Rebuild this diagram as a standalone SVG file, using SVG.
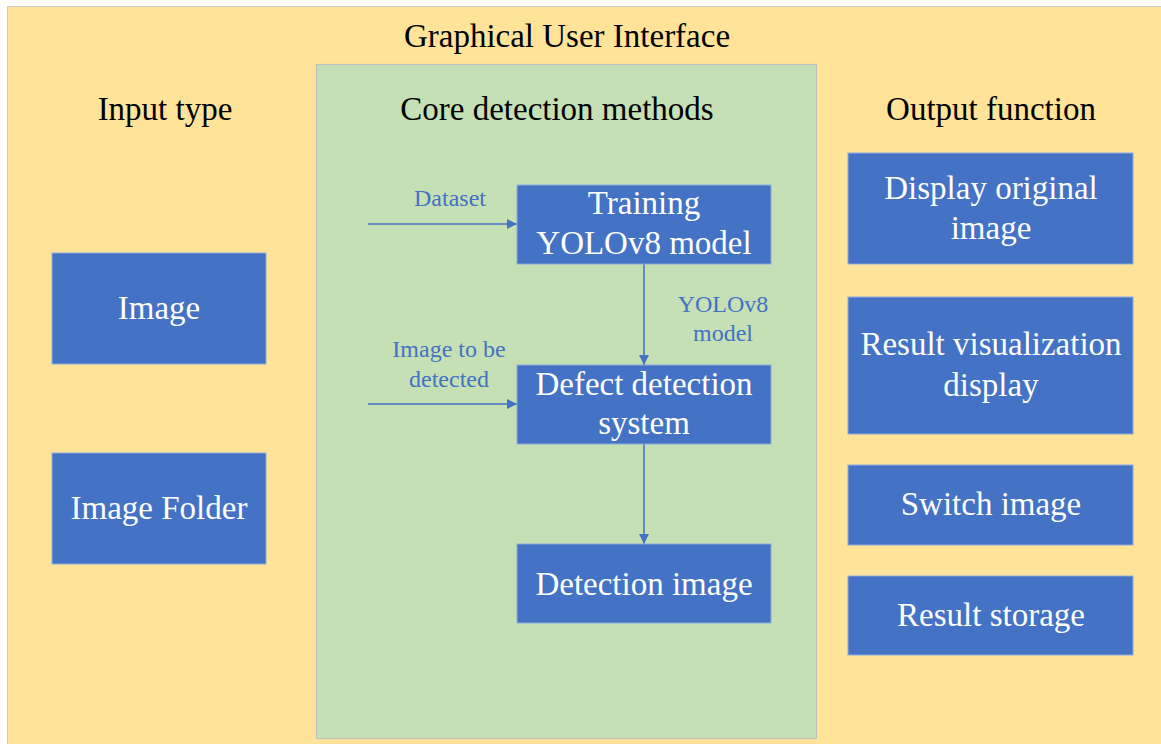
<svg xmlns="http://www.w3.org/2000/svg" width="1161" height="744" viewBox="0 0 1161 744">
<defs>
<style>
text{font-family:"Liberation Serif","Times New Roman",serif;text-anchor:middle}
.hdr{font-size:33px;fill:#000}
.box{fill:#4472C4;stroke:#8FAADC;stroke-width:1}
.bt{font-size:33px;fill:#fff}
.lbl{font-size:24px;fill:#4472C4}
.conn{stroke:#4472C4;stroke-width:1.5;fill:none;marker-end:url(#ah)}
</style>
<marker id="ah" viewBox="0 0 10 10" refX="10" refY="5" markerWidth="10" markerHeight="10" markerUnits="userSpaceOnUse" orient="auto">
<path d="M0,0 L10,5 L0,10 z" fill="#4472C4"/>
</marker>
</defs>
<rect x="0" y="0" width="1161" height="744" fill="#fff"/>
<rect id="gui" x="7.5" y="6.5" width="1160" height="745" fill="#FFE399" stroke="#C8C8C8" stroke-width="1"/>
<rect id="core" x="316.5" y="64.5" width="500" height="674" fill="#C5E0B4" stroke="#BFBFBF" stroke-width="1.2"/>
<text class="hdr" x="567" y="47">Graphical User Interface</text>
<text class="hdr" x="165" y="120">Input type</text>
<text class="hdr" x="557" y="120">Core detection methods</text>
<text class="hdr" x="991" y="120">Output function</text>
<g id="connectors">
<line class="conn" x1="368" y1="224" x2="517" y2="224"/>
<line class="conn" x1="368" y1="404" x2="517" y2="404"/>
<line class="conn" x1="644" y1="264" x2="644" y2="365"/>
<line class="conn" x1="644" y1="444" x2="644" y2="544"/>
<text class="lbl" x="450" y="206">Dataset</text>
<text class="lbl" x="723" y="312">YOLOv8</text>
<text class="lbl" x="723" y="341">model</text>
<text class="lbl" x="449" y="357">Image to be</text>
<text class="lbl" x="449" y="387">detected</text>
</g>
<g id="n-image"><rect class="box" x="52" y="253" width="214" height="111"/><text class="bt" x="159" y="319">Image</text></g>
<g id="n-folder"><rect class="box" x="52" y="453" width="214" height="111"/><text class="bt" x="159" y="519">Image Folder</text></g>
<g id="n-train"><rect class="box" x="517" y="185" width="254" height="79"/><text class="bt" x="644" y="214">Training</text><text class="bt" x="644" y="254">YOLOv8 model</text></g>
<g id="n-defect"><rect class="box" x="517" y="365" width="254" height="79"/><text class="bt" x="644" y="395">Defect detection</text><text class="bt" x="644" y="434">system</text></g>
<g id="n-detimg"><rect class="box" x="517" y="544" width="254" height="79"/><text class="bt" x="644" y="595">Detection image</text></g>
<g id="n-display"><rect class="box" x="848" y="153" width="285" height="111"/><text class="bt" x="991" y="199">Display original</text><text class="bt" x="991" y="239">image</text></g>
<g id="n-resvis"><rect class="box" x="848" y="297" width="285" height="137"/><text class="bt" x="991" y="355">Result visualization</text><text class="bt" x="991" y="396">display</text></g>
<g id="n-switch"><rect class="box" x="848" y="465" width="285" height="80"/><text class="bt" x="991" y="515">Switch image</text></g>
<g id="n-store"><rect class="box" x="848" y="576" width="285" height="79"/><text class="bt" x="991" y="626">Result storage</text></g>
</svg>
